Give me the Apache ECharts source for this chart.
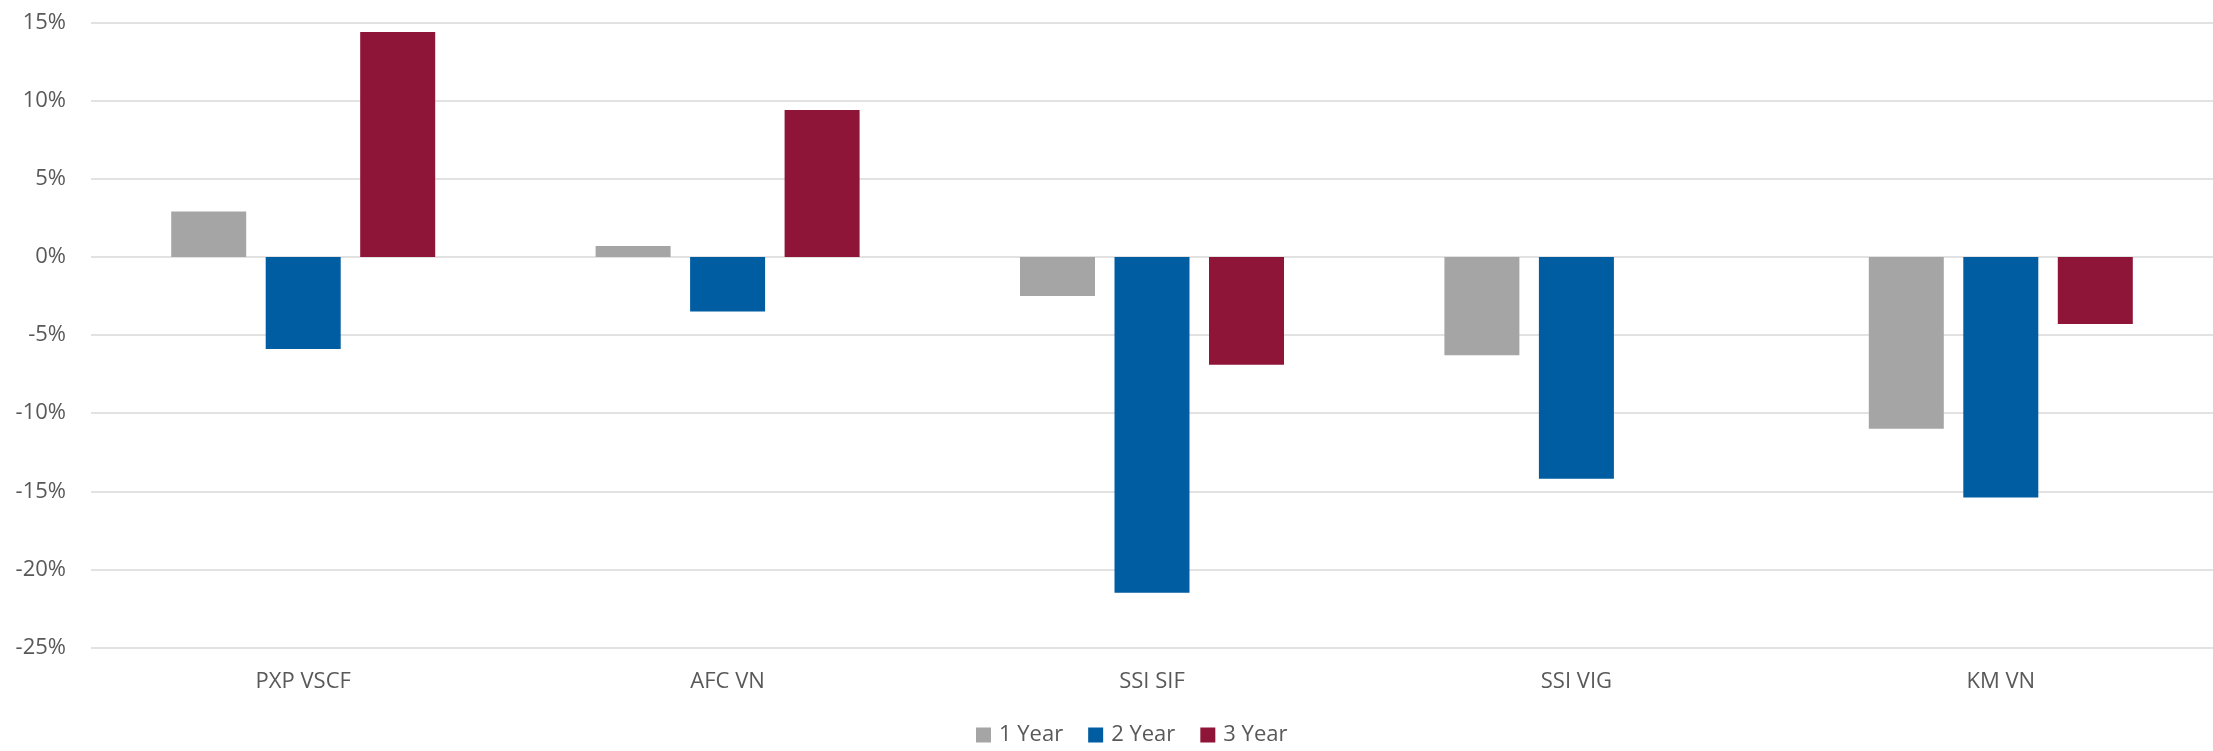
<!DOCTYPE html>
<html>
<head>
<meta charset="utf-8">
<script src="https://cdn.jsdelivr.net/npm/echarts@6/dist/echarts.min.js"></script>
<style>
  html, body { margin: 0; padding: 0; background: #fff; }
  #main { width: 2213px; height: 751px; }
</style>
</head>
<body>
<div id="main"></div>
<script>
// data (percent)
var funds = ['PXP VSCF', 'AFC VN', 'SSI SIF', 'SSI VIG', 'KM VN'];
var year1 = [2.9, 0.7, -2.5, -6.3, -11.0];
var year2 = [-5.9, -3.5, -21.5, -14.2, -15.4];
var year3 = [14.4, 9.4, -6.9, null, -4.3];
var seriesNames = ['1 Year', '2 Year', '3 Year'];
var colors = ['#a5a5a5', '#005da1', '#8e1538'];

var fontFam = '"Open Sans", "Noto Sans", sans-serif';
var myChart = echarts.init(document.getElementById('main'));

var option = {
  animation: false,
  color: colors,
  grid: {
    left: 91,
    right: -16,   // plot area runs past the right edge in the reference
    top: 22.5,
    bottom: 103.5,
    containLabel: false
  },
  legend: {
    bottom: 0,
    left: 971,   // legend sits a little right of centre in the reference
    itemWidth: 15,
    itemHeight: 15,
    itemGap: 25,
    icon: 'rect',
    data: seriesNames,
    textStyle: { color: '#595959', fontSize: 22, fontFamily: fontFam, padding: [0, 0, 0, 3] }
  },
  xAxis: {
    type: 'category',
    data: funds,
    axisLine: { show: false },
    axisTick: { show: false },
    axisLabel: {
      color: '#595959',
      fontSize: 22,
      fontFamily: fontFam,
      margin: 23,
      interval: 0
    }
  },
  yAxis: {
    type: 'value',
    min: -25,
    max: 15,
    interval: 5,
    axisLine: { show: false },
    axisTick: { show: false },
    splitLine: { lineStyle: { color: '#d9d9d9', width: 1.5 } },
    axisLabel: {
      color: '#595959',
      fontSize: 22,
      fontFamily: fontFam,
      margin: 25,
      formatter: '{value}%'
    }
  },
  series: [
    { name: seriesNames[0], type: 'bar', barWidth: 75, barGap: '26%', data: year1 },
    { name: seriesNames[1], type: 'bar', barWidth: 75, barGap: '26%', data: year2 },
    { name: seriesNames[2], type: 'bar', barWidth: 75, barGap: '26%', data: year3 }
  ]
};

myChart.setOption(option);
</script>
</body>
</html>
